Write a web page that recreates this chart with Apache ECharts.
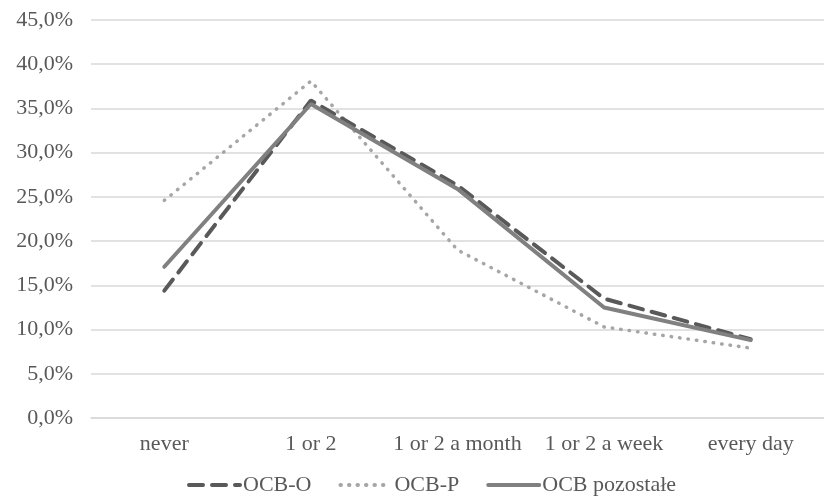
<!DOCTYPE html>
<html>
<head>
<meta charset="utf-8">
<script src="https://cdn.jsdelivr.net/npm/echarts@6/dist/echarts.min.js"></script>
<style>
  html, body { margin: 0; padding: 0; background: #fff; }
  #chart { width: 824px; height: 501px; }
</style>
</head>
<body>
<div id="chart"></div>
<script>
var categories = ['never', '1 or 2', '1 or 2 a month', '1 or 2 a week', 'every day']
var ocbO = [14.4, 35.9, 26.3, 13.5, 8.9]
var ocbP = [24.6, 38.1, 19.0, 10.3, 7.9]
var ocbRest = [17.1, 35.5, 25.9, 12.5, 8.8]
var yTicks = [0, 5, 10, 15, 20, 25, 30, 35, 40, 45]

var font = '"Liberation Serif", "Times New Roman", serif'
var chart = echarts.init(document.getElementById('chart'))

chart.setOption({
  animation: false,
  grid: { left: 91, top: 20, width: 744, height: 398, containLabel: false },
  legend: {
    bottom: 0,
    left: 182,
    itemWidth: 51,
    itemHeight: 14,
    itemGap: 27,
    itemStyle: { opacity: 0 },
    lineStyle: { width: 4 },
    textStyle: { fontFamily: font, fontSize: 22, color: '#595959', padding: [0, 0, 0, -2] },
    data: ['OCB-O', 'OCB-P', 'OCB pozostałe']
  },
  xAxis: {
    type: 'category',
    data: categories,
    boundaryGap: true,
    axisLine: { show: true, lineStyle: { color: '#d9d9d9', width: 1.5 } },
    axisTick: { show: false },
    axisLabel: { interval: 0, fontFamily: font, fontSize: 22, color: '#595959', margin: 15 }
  },
  yAxis: {
    type: 'value',
    min: yTicks[0],
    max: yTicks[yTicks.length - 1],
    interval: 5,
    axisLine: { show: false },
    axisTick: { show: false },
    splitLine: { lineStyle: { color: '#d9d9d9', width: 1.5 } },
    axisLabel: {
      fontFamily: font, fontSize: 22, color: '#595959', margin: 18,
      formatter: function(v) { return v.toFixed(1).replace('.', ',') + '%' }
    }
  },
  series: [
    {
      name: 'OCB-O',
      type: 'line',
      data: ocbO,
      symbol: 'none',
      z: 3,
      lineStyle: { color: '#595959', width: 4, type: [14, 9], cap: 'round' },
      itemStyle: { color: '#595959' }
    },
    {
      name: 'OCB-P',
      type: 'line',
      data: ocbP,
      symbol: 'none',
      z: 2,
      lineStyle: { color: '#a6a6a6', width: 3.5, type: [0.5, 8], cap: 'round' },
      itemStyle: { color: '#a6a6a6' }
    },
    {
      name: 'OCB pozostałe',
      type: 'line',
      data: ocbRest,
      symbol: 'none',
      z: 4,
      lineStyle: { color: '#808080', width: 4, cap: 'round' },
      itemStyle: { color: '#808080' }
    }
  ]
})
</script>
</body>
</html>
